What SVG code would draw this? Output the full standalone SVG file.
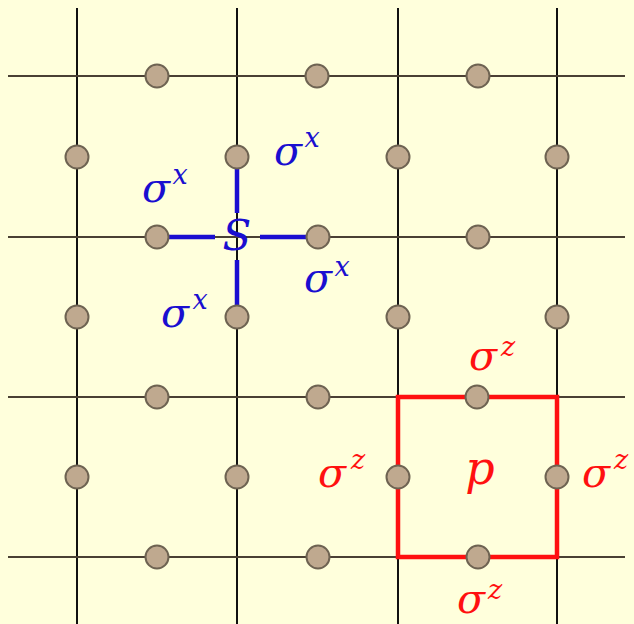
<svg xmlns="http://www.w3.org/2000/svg" width="634" height="624" viewBox="0 0 634 624">
<style>
.v{stroke:#111;stroke-width:2}
.h{stroke:#4a4034;stroke-width:2.2}
.q{fill:#bfa98f;stroke:#6e6352;stroke-width:2}
.b{stroke:#1a0ed0;stroke-width:4.5;fill:none}
.r{stroke:#ff1010;stroke-width:4.5;fill:none}
.t{font-family:"DejaVu Serif",serif;font-style:italic;text-anchor:middle}
.bt{fill:#1a0ed0}
.rt{fill:#ff1010}
.sg{font-size:41px}
.sp{font-size:27px}
</style>
<rect width="634" height="624" fill="#ffffdc"/>
<g id="connectors">
<line class="v" x1="77" y1="8" x2="77" y2="624"/>
<line class="v" x1="237" y1="8" x2="237" y2="624"/>
<line class="v" x1="398" y1="8" x2="398" y2="624"/>
<line class="v" x1="557" y1="8" x2="557" y2="624"/>
<line class="h" x1="8" y1="76" x2="625" y2="76"/>
<line class="h" x1="8" y1="237" x2="625" y2="237"/>
<line class="h" x1="8" y1="397" x2="625" y2="397"/>
<line class="h" x1="8" y1="557" x2="625" y2="557"/>
<line class="b" x1="169" y1="237" x2="215" y2="237"/>
<line class="b" x1="260" y1="237" x2="306" y2="237"/>
<line class="b" x1="237" y1="169" x2="237" y2="213"/>
<line class="b" x1="237" y1="260" x2="237" y2="305"/>
<rect class="r" x="398" y="397" width="159" height="160"/>
</g>
<g id="qubits">
<circle class="q" cx="157" cy="76" r="11.5"/>
<circle class="q" cx="317" cy="76" r="11.5"/>
<circle class="q" cx="478" cy="76" r="11.5"/>
<circle class="q" cx="157" cy="237" r="11.5"/>
<circle class="q" cx="318" cy="237" r="11.5"/>
<circle class="q" cx="478" cy="237" r="11.5"/>
<circle class="q" cx="157" cy="397" r="11.5"/>
<circle class="q" cx="318" cy="397" r="11.5"/>
<circle class="q" cx="477" cy="397" r="11.5"/>
<circle class="q" cx="157" cy="557" r="11.5"/>
<circle class="q" cx="318" cy="557" r="11.5"/>
<circle class="q" cx="478" cy="557" r="11.5"/>
<circle class="q" cx="77" cy="157" r="11.5"/>
<circle class="q" cx="237" cy="157" r="11.5"/>
<circle class="q" cx="398" cy="157" r="11.5"/>
<circle class="q" cx="557" cy="157" r="11.5"/>
<circle class="q" cx="77" cy="317" r="11.5"/>
<circle class="q" cx="237" cy="317" r="11.5"/>
<circle class="q" cx="398" cy="317" r="11.5"/>
<circle class="q" cx="557" cy="317" r="11.5"/>
<circle class="q" cx="77" cy="477" r="11.5"/>
<circle class="q" cx="237" cy="477" r="11.5"/>
<circle class="q" cx="398" cy="477" r="11.5"/>
<circle class="q" cx="557" cy="477" r="11.5"/>
</g>
<g id="star">
<text class="t bt" x="237" y="250" font-size="42">S</text>
<text class="t bt sg" x="288" y="165">σ</text><text class="t bt sp" x="312" y="147">x</text>
<text class="t bt sg" x="156" y="202">σ</text><text class="t bt sp" x="180" y="184">x</text>
<text class="t bt sg" x="318" y="292">σ</text><text class="t bt sp" x="342" y="276">x</text>
<text class="t bt sg" x="175" y="327">σ</text><text class="t bt sp" x="200" y="309">x</text>
</g>
<g id="plaquette">
<text class="t rt" x="480" y="484" font-size="46">p</text>
<text class="t rt sg" x="483" y="370">σ</text><text class="t rt sp" x="508" y="356">z</text>
<text class="t rt sg" x="332" y="487">σ</text><text class="t rt sp" x="358" y="469">z</text>
<text class="t rt sg" x="596" y="487">σ</text><text class="t rt sp" x="621" y="469">z</text>
<text class="t rt sg" x="471" y="613">σ</text><text class="t rt sp" x="495" y="599">z</text>
</g>
</svg>
